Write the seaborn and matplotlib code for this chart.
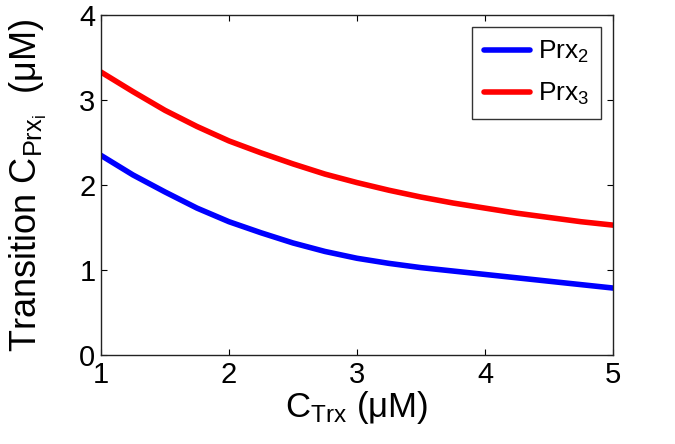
import numpy as np
import pandas as pd
import matplotlib
matplotlib.use("Agg")
import matplotlib.pyplot as plt
import seaborn as sns

# values (C_Trx in uM)
c_trx = [1.0, 1.25, 1.5, 1.75, 2.0, 2.25, 2.5, 2.75, 3.0, 3.25, 3.5, 3.75, 4.0, 4.25, 4.5, 4.75, 5.0]
prx2 = [2.35, 2.12, 1.92, 1.73, 1.57, 1.44, 1.32, 1.22, 1.14, 1.08, 1.03, 0.99, 0.95, 0.91, 0.87, 0.83, 0.79]
prx3 = [3.33, 3.10, 2.88, 2.69, 2.52, 2.38, 2.25, 2.13, 2.03, 1.94, 1.86, 1.79, 1.73, 1.67, 1.62, 1.57, 1.53]
series_names = ["$\\mathregular{Prx_2}$", "$\\mathregular{Prx_3}$"]

df = pd.concat([
    pd.DataFrame({"ctrx": c_trx, "conc": prx2, "species": series_names[0]}),
    pd.DataFrame({"ctrx": c_trx, "conc": prx3, "species": series_names[1]}),
])

sns.set_theme(style="ticks")
plt.rcParams["font.family"] = ["Liberation Sans", "DejaVu Sans"]
plt.rcParams["mathtext.fontset"] = "custom"
plt.rcParams["mathtext.rm"] = "Liberation Sans"
plt.rcParams["mathtext.it"] = "Liberation Sans"
plt.rcParams["xtick.direction"] = "in"
plt.rcParams["ytick.direction"] = "in"
plt.rcParams["text.color"] = "black"
plt.rcParams["axes.labelcolor"] = "black"
plt.rcParams["xtick.color"] = "black"
plt.rcParams["ytick.color"] = "black"

fig = plt.figure(figsize=(6.75, 4.44), dpi=100)
ax = fig.add_axes([0.1496, 0.200, 0.7585, 0.766])

sns.lineplot(data=df, x="ctrx", y="conc", hue="species",
             palette=["#0000ff", "#ff0000"], linewidth=4, ax=ax)

ax.set_xlim(1, 5)
ax.set_ylim(0, 4)
ax.set_xticks([1, 2, 3, 4, 5])
ax.set_yticks([0, 1, 2, 3, 4])
ax.tick_params(axis="both", labelsize=21, top=True, right=True,
               length=4, width=0.8, pad=4)
for s in ax.spines.values():
    s.set_color("#222222")
    s.set_linewidth(1.0)

ax.set_xlabel("$\\mathregular{C_{Trx}}$ (μM)", fontsize=25, labelpad=0)
ax.set_ylabel("Transition $\\mathregular{C_{Prx_i}}$  (μM)", fontsize=26, labelpad=22)

leg = ax.legend(loc="upper right", fontsize=19, frameon=True, fancybox=False,
                edgecolor="black", handlelength=1.75, handletextpad=0.3,
                borderaxespad=0.45, borderpad=0.45, labelspacing=0.6)
leg.get_frame().set_linewidth(1.0)
leg.set_title(None)

fig.savefig("out.png", dpi=100)
